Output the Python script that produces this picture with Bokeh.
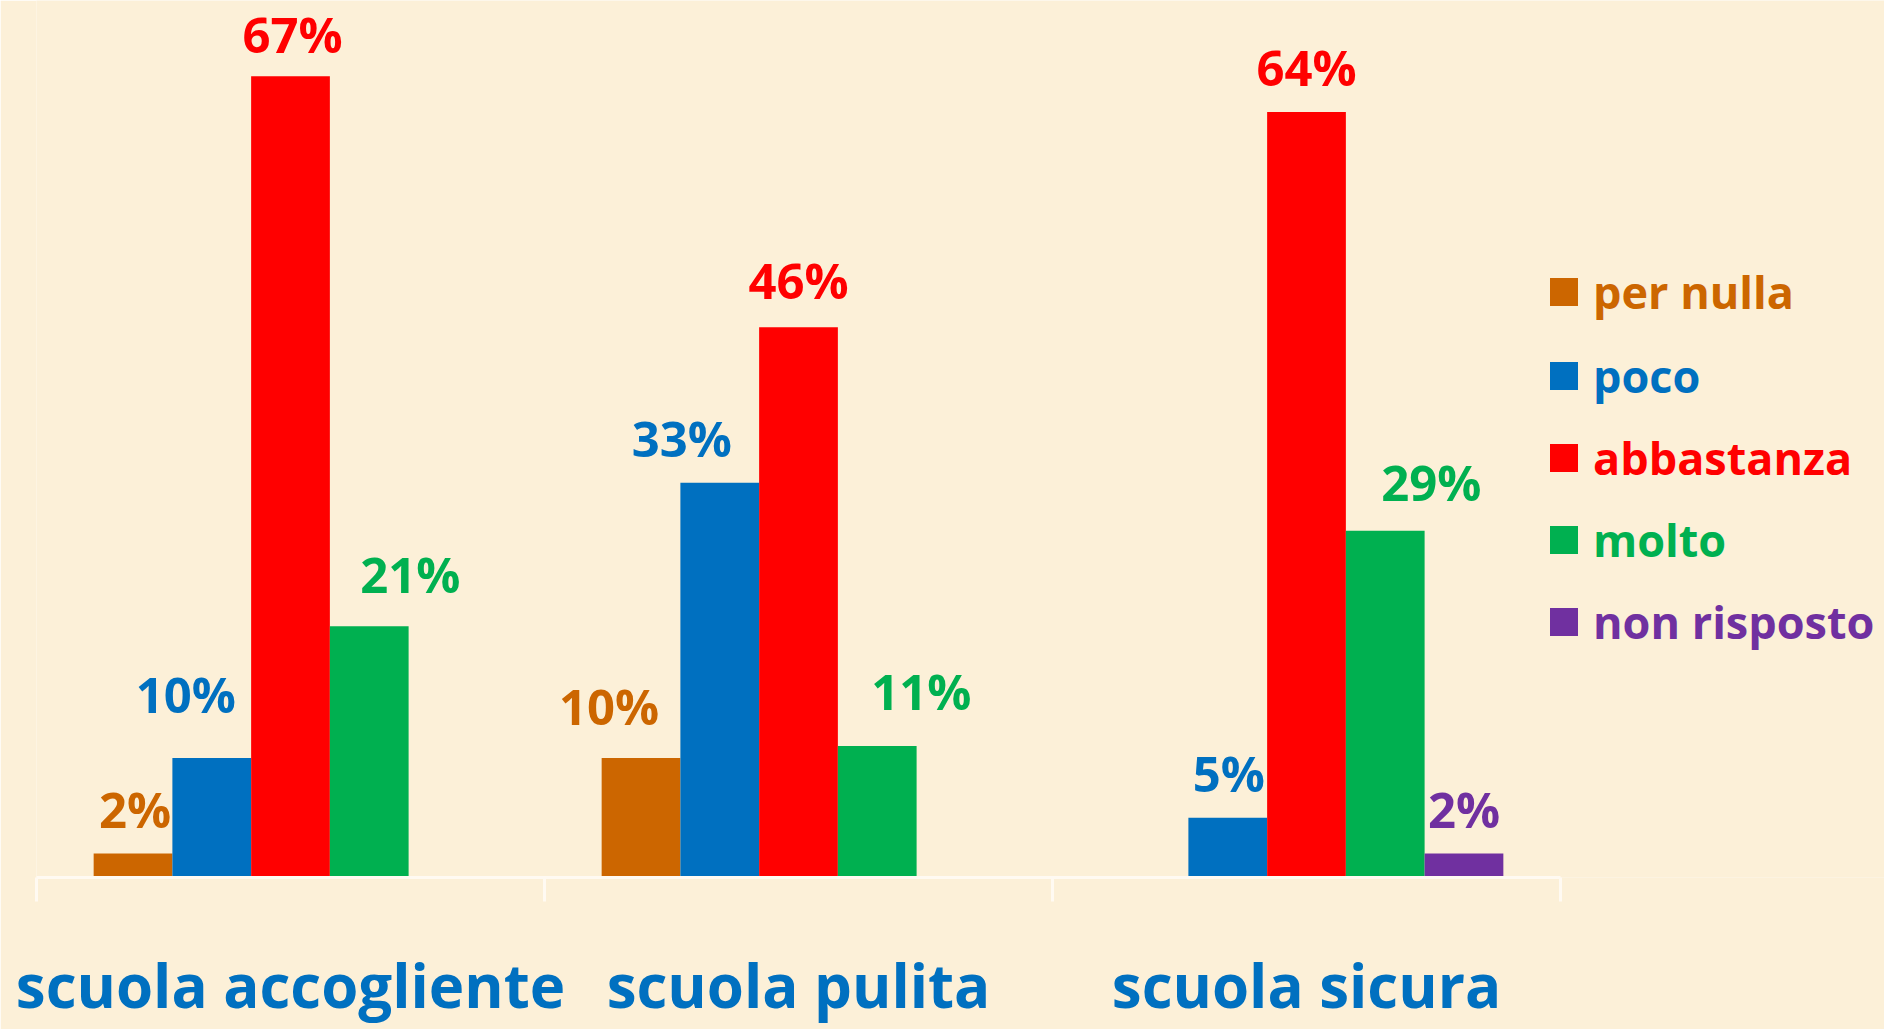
from bokeh.plotting import figure
from bokeh.models import (ColumnDataSource, Range1d, FixedTicker, Legend, LegendItem)
from bokeh.core.properties import value
from bokeh.embed import file_html
from bokeh.resources import INLINE

# ---- data ----
categories = ["scuola accogliente", "scuola pulita", "scuola sicura"]
series = ["per nulla", "poco", "abbastanza", "molto", "non risposto"]
per_nulla = [2, 10, 0]
poco = [10, 33, 5]
abbastanza = [67, 46, 64]
molto = [21, 11, 29]
non_risposto = [0, 0, 2]
values = [per_nulla, poco, abbastanza, molto, non_risposto]

# ---- styles ----
colors = ["#CC6600", "#0070C0", "#FF0000", "#00B050", "#7030A0"]
BG = "#FCF0D8"
FONT = "Open Sans"
bar_w = 0.155
# per-label offsets (screen px) [series][category]
label_dx = [[2, -32, 0], [-26, -38, 1], [2, 0, 0], [41, 44, 46], [0, 0, 0]]
label_dy = [[24, 31, 24], [43, 24, 24], [21, 26, 24], [31, 34, 28], [24, 24, 24]]
baseline_fix = 21

W, H = 1884, 1029
left_border = 36
frame_w = W - left_border
plot_units = 1524.0  # pixels covering the 3 categories
frame_h = 877
y_top = frame_h / 11.96

p = figure(width=W, height=H, output_backend="svg", toolbar_location=None,
           x_range=Range1d(0, 3 * frame_w / plot_units), y_range=Range1d(0, y_top),
           min_border_left=left_border, min_border_right=0, min_border_top=0,
           min_border_bottom=H - frame_h)
p.background_fill_color = BG
p.border_fill_color = BG
p.outline_line_color = None
p.grid.visible = False
p.yaxis.visible = False

renderers = []
for j, (name, vals, col) in enumerate(zip(series, values, colors)):
    xs = [i + 0.5 + (j - 2) * bar_w for i in range(len(categories))]
    src = ColumnDataSource(dict(x=xs, top=vals))
    r = p.vbar(x="x", top="top", width=bar_w, bottom=0, source=src,
               fill_color=col, line_color=None)
    renderers.append(r)
    lx, ly, lt, dx, dy = [], [], [], [], []
    for i, v in enumerate(vals):
        if v > 0:
            lx.append(xs[i]); ly.append(v); lt.append(f"{v}%")
            dx.append(label_dx[j][i]); dy.append(-(label_dy[j][i] + baseline_fix))
    lsrc = ColumnDataSource(dict(x=lx, y=ly, t=lt, dx=dx, dy=dy))
    p.text(x="x", y="y", text="t", source=lsrc, x_offset="dx", y_offset="dy",
           text_align="center", text_baseline="alphabetic",
           text_color=col, text_font=value(FONT), text_font_style="bold",
           text_font_size="49px")

# ---- axis: boundary ticks (minor) and category labels (major) ----
ax = p.xaxis[0]
ax.ticker = FixedTicker(ticks=[i + 0.5 for i in range(len(categories))],
                        minor_ticks=list(range(len(categories) + 1)))
ax.major_label_overrides = {i + 0.5: c for i, c in enumerate(categories)}
ax.bounds = (0, len(categories))
ax.axis_line_color = "#FFFAF2"
ax.axis_line_width = 3
ax.major_tick_line_color = None
ax.major_tick_out = 0
ax.major_tick_in = 0
ax.minor_tick_line_color = "#FFFAF2"
ax.minor_tick_line_width = 3
ax.minor_tick_out = 24
ax.minor_tick_in = 0
ax.major_label_standoff = 42
ax.major_label_text_font = FONT
ax.major_label_text_font_style = "bold"
ax.major_label_text_font_size = "60px"
ax.major_label_text_color = "#0070C0"

# ---- legends (one per series so text takes series colour) ----
row_centers = [294, 378, 460, 542, 624]  # page px from top
leg_x = 1546 - left_border
for name, r, col, rc in zip(series, renderers, colors, row_centers):
    leg = Legend(items=[LegendItem(label=name, renderers=[r])],
                 location=(leg_x, frame_h - (rc + 28)),
                 glyph_width=35, glyph_height=35, label_standoff=12,
                 label_text_font=FONT, label_text_font_style="bold",
                 label_text_font_size="45px", label_text_color=col,
                 background_fill_alpha=0, border_line_alpha=0,
                 padding=0, margin=0, spacing=0)
    p.add_layout(leg, "center")

html = file_html(p, INLINE)
html = html.replace("<body>", '<body style="background-color:%s;">' % BG, 1)
open("out.html", "w").write(html)
